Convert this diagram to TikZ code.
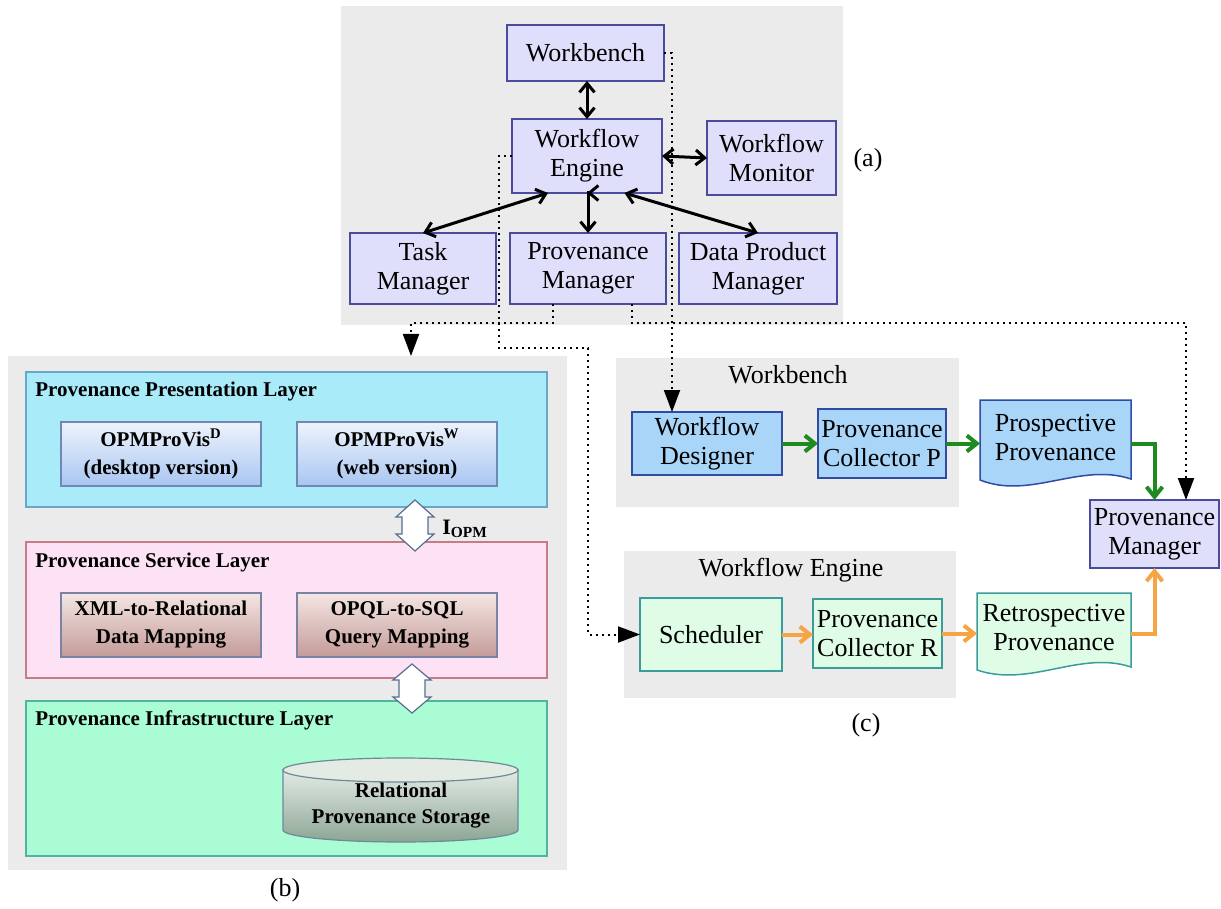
\documentclass[tikz,border=0pt]{standalone}
\usepackage{fontspec}
\setmainfont{Liberation Serif}
\usetikzlibrary{arrows.meta,calc}

\definecolor{bgGray}{HTML}{EBEBEB}
\definecolor{aFill}{HTML}{DFDFFB}
\definecolor{aLine}{HTML}{4B4B9B}
\definecolor{cyanL}{HTML}{A9EBF8}
\definecolor{cyanLine}{HTML}{6AA6C6}
\definecolor{pinkL}{HTML}{FDE2F6}
\definecolor{pinkLine}{HTML}{C87A86}
\definecolor{greenL}{HTML}{A9FCD3}
\definecolor{greenLine}{HTML}{4FB4A2}
\definecolor{visTop}{HTML}{EEF3FC}
\definecolor{visBot}{HTML}{A8C6F1}
\definecolor{visLine}{HTML}{6E89B4}
\definecolor{mapTop}{HTML}{F5E6E3}
\definecolor{mapBot}{HTML}{C39B98}
\definecolor{mapLine}{HTML}{7A82A6}
\definecolor{cylTop}{HTML}{E3EBE4}
\definecolor{cylBot}{HTML}{8CA595}
\definecolor{cylLine}{HTML}{6B8A9A}
\definecolor{wbFill}{HTML}{A9D5F8}
\definecolor{wbLine}{HTML}{2F4BA3}
\definecolor{weFill}{HTML}{DFFCE7}
\definecolor{weLine}{HTML}{3C9C9C}
\definecolor{arrGreen}{HTML}{1F8A1F}
\definecolor{arrOrange}{HTML}{F7A444}

\begin{document}
\begin{tikzpicture}[x=0.5pt,y=-0.5pt,
  % a rectangle given by its corners (left, top, right, bottom) in pixel units
  span/.style n args={4}{at={({(#1+#3)/2},{(#2+#4)/2})},
    minimum width={(#3-#1)*0.5pt}, minimum height={(#4-#2)*0.5pt}, inner sep=0pt, outer sep=0pt},
  panel/.style={fill=bgGray, draw=none},
  boxtext/.style={align=center, font=\fontsize{13}{14.5}\selectfont},
  abox/.style={boxtext, draw=aLine, fill=aFill, line width=0.75pt},
  wbbox/.style={boxtext, draw=wbLine, fill=wbFill, line width=0.75pt},
  webox/.style={boxtext, draw=weLine, fill=weFill, line width=0.75pt},
  layer/.style={line width=0.6pt},
  layertitle/.style={anchor=west, inner sep=0pt, font=\fontsize{10.5}{13}\selectfont\bfseries},
  visbox/.style={draw=visLine, top color=visTop, bottom color=visBot, line width=0.6pt,
    align=center, font=\fontsize{10.5}{14}\selectfont\bfseries},
  mapbox/.style={draw=mapLine, top color=mapTop, bottom color=mapBot, line width=0.6pt,
    align=center, font=\fontsize{10.5}{14}\selectfont\bfseries},
  hollow/.style={draw=visLine!80!black, fill=white, line width=0.6pt, line join=miter},
  twoway/.style={line width=1.5pt, <->, >={Straight Barb[length=4.5pt,width=7.5pt]}},
  grn/.style={line width=2pt, draw=arrGreen, -{Straight Barb[length=5pt,width=8pt]}},
  org/.style={line width=2pt, draw=arrOrange, -{Straight Barb[length=5pt,width=8pt]}},
  dotarrow/.style={line width=1pt, dash pattern=on 1pt off 2pt, -{Triangle[length=11pt,width=8pt]}},
  caption/.style={font=\fontsize{13}{15}\selectfont}
]
\useasboundingbox (0,0) rectangle (1221,909);

% ---------- gray panels ----------
\node[panel, span={341}{6}{843}{325}] (apanel) {};
\node[panel, span={8}{356}{567}{870}] (bpanel) {};
\node[panel, span={616}{358}{959}{507}] (wbpanel) {};
\node[panel, span={624}{551}{956}{698}] (wepanel) {};

% ---------- (b) layers ----------
\node[layer, draw=cyanLine, fill=cyanL, span={26}{372}{547}{507}] (present) {};
\node[layer, draw=pinkLine, fill=pinkL, span={26}{542}{547}{678}] (service) {};
\node[layer, draw=greenLine, fill=greenL, span={26}{701}{547}{856}] (infra) {};

\node[layertitle] (presentT) at (35,391) {Provenance Presentation Layer};
\node[layertitle] (serviceT) at (35,562) {Provenance Service Layer};
\node[layertitle] (infraT) at (35,720) {Provenance Infrastructure Layer};

\node[visbox, span={61}{422}{261}{486}] (visD) {OPMProVis\textsuperscript{D}\\(desktop version)};
\node[visbox, span={297}{422}{497}{486}] (visW) {OPMProVis\textsuperscript{W}\\(web version)};
\node[mapbox, span={61}{593}{261}{657}] (xmlmap) {XML-to-Relational\\Data Mapping};
\node[mapbox, span={297}{593}{497}{657}] (sqlmap) {OPQL-to-SQL\\Query Mapping};

% relational storage drum
\path[draw=cylLine, line width=0.6pt, top color=cylTop, bottom color=cylBot]
  (283,770) -- (283,830) arc[start angle=180, end angle=0, x radius=117.5, y radius=12]
  -- (518,770) -- cycle;
\draw[cylLine, line width=0.6pt, fill=cylTop] (400.5,770) ellipse [x radius=117.5, y radius=12];
\node[align=center, font=\fontsize{10.5}{13}\selectfont\bfseries] (store) at (401,806)
  {Relational\\Provenance Storage};

% hollow two-way arrows between layers
\draw[hollow] (415,500) -- (434,517) -- (428,517) -- (428,534) -- (434,534) -- (415,551)
  -- (396,534) -- (402,534) -- (402,517) -- (396,517) -- cycle;
\node[anchor=west, font=\fontsize{11}{13}\selectfont\bfseries, inner sep=0pt] (iopm) at (442,529)
  {I\textsubscript{OPM}};
\draw[hollow] (412,664) -- (431,680) -- (425,680) -- (425,697) -- (431,697) -- (412,713)
  -- (393,697) -- (399,697) -- (399,680) -- (393,680) -- cycle;

% ---------- (a) architecture ----------
\node[abox, span={507}{25}{664}{81}] (wb) {Workbench};
\node[abox, span={512}{119}{662}{193}] (we) {Workflow\\Engine};
\node[abox, span={707}{121}{836}{195}] (wm) {Workflow\\Monitor};
\node[abox, span={350}{233}{496}{304}] (tm) {Task\\Manager};
\node[abox, span={510}{233}{666}{304}] (pm) {Provenance\\Manager};
\node[abox, span={679}{233}{837}{304}] (dpm) {Data Product\\Manager};

% ---------- (c) provenance capture ----------
\node[boxtext] (wbT) at (788,375) {Workbench};
\node[boxtext] (weT) at (791,570) {Workflow Engine};

\node[wbbox, span={632}{412}{782}{475}] (wd) {Workflow\\Designer};
\node[wbbox, span={818}{409}{946}{478}] (pcp) {Provenance\\Collector P};
\draw[draw=wbLine, fill=wbFill, line width=0.75pt]
  (980,400) -- (1131,400) -- (1131,479) .. controls (1080,462) and (1030,500) .. (980,480) -- cycle;
\node[boxtext, span={980}{400}{1131}{476}] (pp) {Prospective\\Provenance};

\node[webox, span={640}{598}{782}{671}] (sch) {Scheduler};
\node[webox, span={813}{599}{942}{668}] (pcr) {Provenance\\Collector R};
\draw[draw=weLine, fill=weFill, line width=0.75pt]
  (977,593) -- (1131,593) -- (1131,667) .. controls (1080,650) and (1030,688) .. (977,670) -- cycle;
\node[boxtext, span={977}{593}{1131}{663}] (rp) {Retrospective\\Provenance};

\node[abox, span={1090}{500}{1219}{568}] (pmc) {Provenance\\Manager};

% ---------- dotted links from (a) ----------
\draw[dotarrow] (wb.east) -- ++(8,0) coordinate (wbx) -- (wbx |- wd.north);
\coordinate (elbowA) at (499,348);
\coordinate (elbowB) at (588,348);
\draw[dotarrow] (we.west) -- (we.west -| elbowA) -- (elbowA) -- (elbowB) -- (elbowB |- sch.west) -- (sch.west);
\coordinate (pmL) at ($(pm.south west)!0.276!(pm.south east)$);
\coordinate (turnB) at (411,323);
\draw[dotarrow] (pmL) -- (pmL |- turnB) -- (turnB) -- (turnB |- bpanel.north);
\coordinate (pmR) at ($(pm.south west)!0.78!(pm.south east)$);
\coordinate (turnC) at (1186,323);
\draw[dotarrow] (pmR) -- (pmR |- turnC) -- (turnC) -- (turnC |- pmc.north);

% ---------- (a) two-way links ----------
\draw[twoway] (we.north |- wb.south) -- (we.north);
\draw[twoway] (we.east) -- (wm.west);
\draw[twoway] (we.south) -- (we.south -| pm.north) -- (pm.north);
\draw[twoway] ($(we.south west)!0.24!(we.south east)$) -- (tm.north);
\draw[twoway] ($(we.south west)!0.75!(we.south east)$) -- (dpm.north);

% ---------- (c) data flow ----------
\draw[grn] (wd.east) -- (wd.east -| pcp.west);
\draw[grn] (pcp.east) -- (pcp.east -| pp.west);
\draw[grn] (pp.east |- pcp.east) -| (pmc.north);
\draw[org] (sch.east) -- (sch.east -| pcr.west);
\draw[org] (pcr.east) -- (pcr.east -| rp.west);
\draw[org] (rp.east |- pcr.east) -| (pmc.south);

% ---------- captions ----------
\node[caption] (capA) at (868,160) {(a)};
\node[caption] (capB) at (285,890) {(b)};
\node[caption] (capC) at (866,725) {(c)};
\end{tikzpicture}
\end{document}
